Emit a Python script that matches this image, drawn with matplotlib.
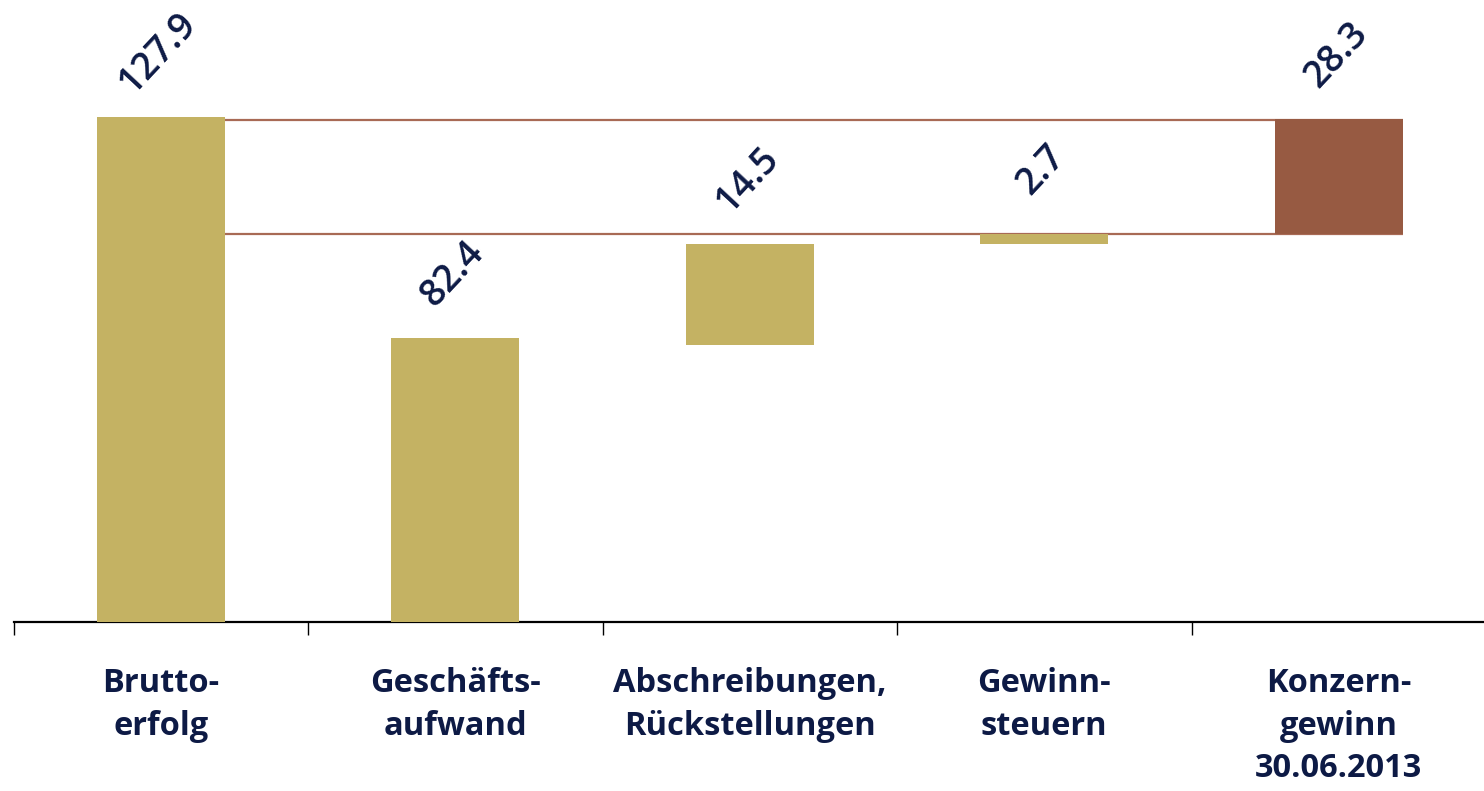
import matplotlib.pyplot as plt

categories = ["Brutto-\nerfolg", "Geschäfts-\naufwand", "Abschreibungen,\nRückstellungen",
              "Gewinn-\nsteuern", "Konzern-\ngewinn\n30.06.2013"]
value_labels = ["127.9", "82.4", "14.5", "2.7", "28.3"]
# bar extents as drawn in the original picture
bar_bottoms = [0.0, 0.0, 70.2, 95.7, 98.3]
bar_tops = [127.9, 71.9, 95.7, 98.3, 127.4]
bar_colors = ["#C4B263", "#C4B263", "#C4B263", "#C4B263", "#975A42"]
connector_levels = [127.15, 98.3]

NAVY = "#0D1A45"
LINE = "#A86A55"

fig = plt.figure(figsize=(14.84, 7.91), dpi=100)
# x-range -0.5..4.5 spans ~13.5..1486 px, y 0 sits at 622 px from top
ax = fig.add_axes([13.5 / 1484, (791 - 622) / 791, 1472.5 / 1484, 622 / 791])
ax.set_xlim(-0.5, 4.5)
ax.set_ylim(0, 157.5)

positions = list(range(len(categories)))
width = 0.435
heights = [t - b for t, b in zip(bar_tops, bar_bottoms)]
ax.bar(positions, heights, bottom=bar_bottoms, width=width, color=bar_colors, zorder=3)

for level in connector_levels:
    ax.hlines(level, positions[0] + width / 2, positions[-1] + width / 2,
              color=LINE, linewidth=1.6, zorder=2)

for x, top, label in zip(positions, bar_tops, value_labels):
    ax.annotate(label, (x, top), xytext=(-2, 46), textcoords="offset points",
                ha="center", va="center", rotation=47, rotation_mode="anchor",
                fontsize=27, color=NAVY, family="Open Sans", fontweight="semibold")

for spine in ["left", "right", "top"]:
    ax.spines[spine].set_visible(False)
ax.spines["bottom"].set_linewidth(1.6)
ax.spines["bottom"].set_color("black")
ax.set_yticks([])
ax.set_xticks([p - 0.5 for p in positions])
ax.tick_params(axis="x", length=9, width=1.0, labelbottom=False, direction="out")

for x, cat in zip(positions, categories):
    ax.text(x, -11.5, cat, ha="center", va="top", fontsize=23.5, color=NAVY,
            family="Open Sans", fontweight="bold", linespacing=1.38)

fig.savefig("out.png", dpi=100)
